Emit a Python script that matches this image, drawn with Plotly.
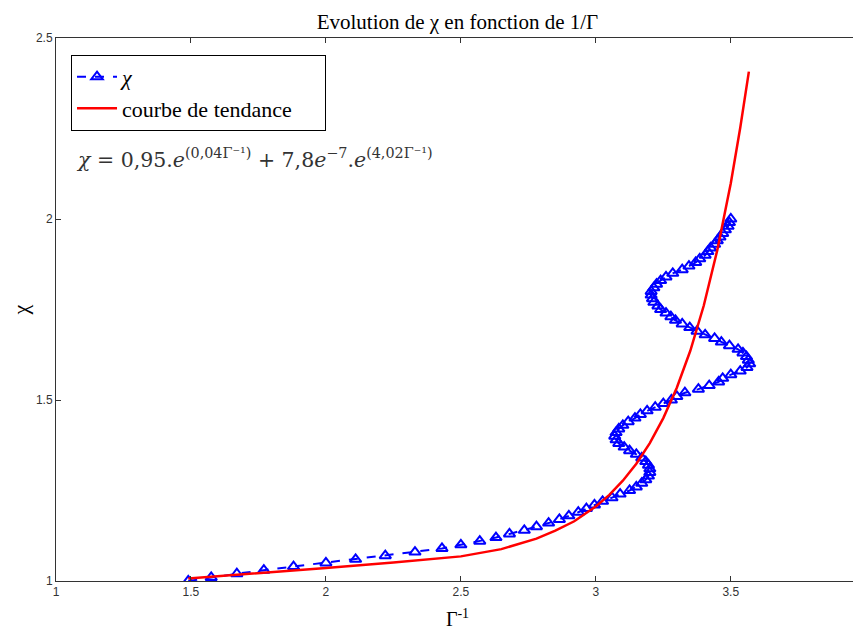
import plotly.graph_objects as go

# measured chi (y) against 1/Gamma (x)
chi = [round(1.0 + 0.01 * i, 2) for i in range(101)]
inv_gamma = [
    1.49, 1.575, 1.67, 1.77, 1.88, 2.00, 2.11, 2.22, 2.33, 2.43,
    2.50, 2.57, 2.63, 2.68, 2.735, 2.78, 2.825, 2.865, 2.90, 2.935,
    2.965, 2.995, 3.025, 3.06, 3.09, 3.125, 3.15, 3.17, 3.185, 3.195,
    3.20, 3.20, 3.195, 3.185, 3.17, 3.15, 3.125, 3.105, 3.085, 3.075,
    3.07, 3.075, 3.085, 3.10, 3.12, 3.145, 3.165, 3.19, 3.22, 3.25,
    3.28, 3.30, 3.33, 3.38, 3.42, 3.455, 3.47, 3.50, 3.535, 3.56,
    3.57, 3.565, 3.558, 3.545, 3.527, 3.495, 3.465, 3.44, 3.405, 3.375,
    3.348, 3.32, 3.295, 3.278, 3.26, 3.24, 3.23, 3.215, 3.21, 3.205,
    3.205, 3.215, 3.225, 3.24, 3.26, 3.285, 3.32, 3.345, 3.37, 3.385,
    3.405, 3.415, 3.425, 3.44, 3.45, 3.46, 3.47, 3.48, 3.49, 3.495,
    3.50,
]

# trend curve
trend_x = [1.49, 1.75, 2.0, 2.25, 2.5, 2.65, 2.78, 2.85, 2.92, 3.0, 3.05, 3.1, 3.15,
           3.2, 3.25, 3.3, 3.35, 3.4, 3.45, 3.5, 3.535, 3.567]
trend_y = [1.007, 1.021, 1.036, 1.051, 1.068, 1.088, 1.117, 1.139, 1.165, 1.206, 1.238, 1.277, 1.324,
           1.381, 1.450, 1.534, 1.636, 1.761, 1.914, 2.099, 2.252, 2.407]

x_ticks = [1, 1.5, 2, 2.5, 3, 3.5]
y_ticks = [1, 1.5, 2, 2.5]

fig = go.Figure()
fig.add_trace(go.Scatter(
    x=inv_gamma, y=chi, mode="lines+markers", name="<i>χ</i>",
    line=dict(color="#0000FF", width=2, dash="dash"),
    marker=dict(symbol="triangle-up-open", size=10, color="#0000FF",
                line=dict(width=2, color="#0000FF")),
))
fig.add_trace(go.Scatter(
    x=trend_x, y=trend_y, mode="lines", name="courbe de tendance\u00a0\u00a0\u00a0\u00a0\u00a0",
    line=dict(color="#FF0000", width=2.5),
))

axis_style = dict(
    showline=True, linecolor="#333", linewidth=1, mirror="allticks",
    ticks="inside", ticklen=5, tickcolor="#333", showgrid=False, zeroline=False,
    automargin=False,
    tickfont=dict(family="Liberation Sans", size=12, color="#333"),
)
fig.update_xaxes(range=[1, 3.975], tickvals=x_ticks, ticktext=[str(t) for t in x_ticks],
                 title=dict(text="Γ<sup>-1</sup>", font=dict(family="Liberation Serif", size=20, color="black"),
                            standoff=13),
                 **axis_style)
fig.update_yaxes(range=[1, 2.5], tickvals=y_ticks, ticktext=[str(t) for t in y_ticks],
                 title=dict(text="χ", font=dict(family="Liberation Serif", size=22, color="black"),
                            standoff=12),
                 **axis_style)

fig.add_annotation(
    xref="paper", yref="paper", x=0.022, y=0.779, xanchor="left", yanchor="middle",
    text="<i>χ</i> = 0,95.<i>e</i><sup>(0,04Γ⁻¹)</sup> + 7,8<i>e</i><sup>−7</sup>.<i>e</i><sup>(4,02Γ⁻¹)</sup>",
    showarrow=False, font=dict(family="DejaVu Serif", size=20.5, color="#333"),
)

# the page body adds an 8px offset, margins compensate for it
fig.update_layout(
    width=861, height=632,
    margin=dict(l=48, r=10, t=30, b=59),
    paper_bgcolor="white", plot_bgcolor="white",
    title=dict(text="Evolution de χ en fonction de 1/Γ", x=0.522, xanchor="center",
               y=0.979, yanchor="middle",
               font=dict(family="Liberation Serif", size=21, color="black")),
    legend=dict(x=0.0187, y=0.969, xanchor="left", yanchor="top",
                bgcolor="white", bordercolor="black", borderwidth=1,
                font=dict(family="Liberation Serif", size=22, color="black"),
                tracegroupgap=0, itemwidth=40),
    showlegend=True,
)

fig.write_html("out.html")
